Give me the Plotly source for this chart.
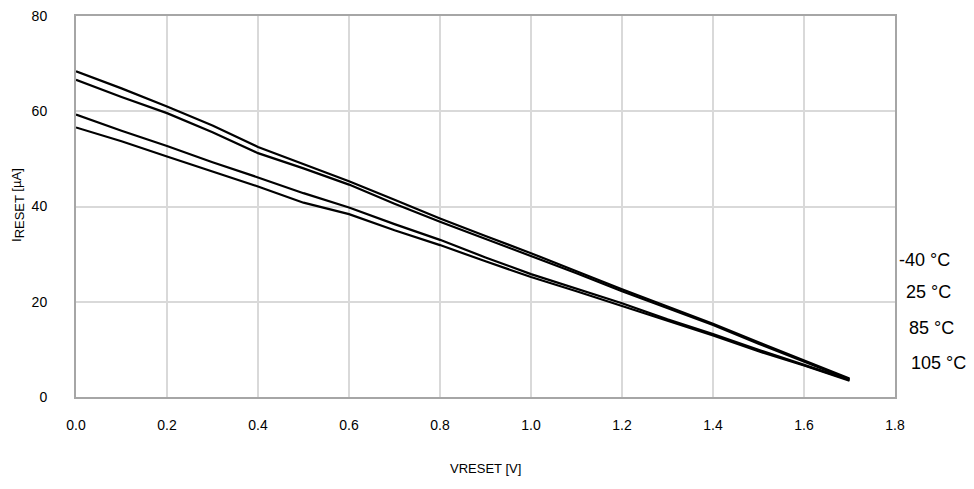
import plotly.graph_objects as go

vreset = [0.0, 0.1, 0.2, 0.3, 0.4, 0.5, 0.6, 0.7, 0.8, 0.9, 1.0, 1.1, 1.2, 1.3, 1.4, 1.5, 1.6, 1.7]
i_m40 = [68.4, 64.8, 61.0, 57.0, 52.5, 48.9, 45.3, 41.4, 37.5, 33.8, 30.2, 26.4, 22.6, 19.0, 15.4, 11.5, 7.7, 3.9]
i_25 = [66.6, 63.0, 59.6, 55.6, 51.2, 48.0, 44.6, 40.6, 36.8, 33.2, 29.7, 26.0, 22.2, 18.6, 15.1, 11.2, 7.5, 3.7]
i_85 = [59.3, 55.9, 52.7, 49.3, 46.1, 42.8, 39.8, 36.3, 33.0, 29.3, 25.8, 22.8, 19.7, 16.3, 13.2, 9.9, 6.8, 3.6]
i_105 = [56.6, 53.7, 50.5, 47.4, 44.2, 40.8, 38.4, 35.0, 31.9, 28.5, 25.2, 22.2, 19.1, 16.0, 12.9, 9.6, 6.6, 3.4]
series_names = ["-40 °C", "25 °C", "85 °C", "105 °C"]
x_ticks = [0.0, 0.2, 0.4, 0.6, 0.8, 1.0, 1.2, 1.4, 1.6, 1.8]
y_ticks = [0, 20, 40, 60, 80]

FONT = "Arial, Liberation Sans, sans-serif"
fig = go.Figure()
for name, ys in zip(series_names, [i_m40, i_25, i_85, i_105]):
    fig.add_trace(go.Scatter(x=vreset, y=ys, mode="lines", name=name,
                             line=dict(color="black", width=2.2)))

# right-side labels (paper coords; plot area is 819 x 381 px)
label_pos = [(1.0024, 0.3596), (1.011, 0.2756), (1.0147, 0.181), (1.017, 0.0892)]
for name, (px, py) in zip(series_names, label_pos):
    fig.add_annotation(text=name, xref="paper", yref="paper", x=px, y=py,
                       xanchor="left", yanchor="middle", showarrow=False,
                       font=dict(size=18, color="black", family=FONT))

fig.add_annotation(text="VRESET [V]", xref="paper", yref="paper", x=0.5, y=-0.1864,
                   xanchor="center", yanchor="middle", showarrow=False,
                   font=dict(size=13, color="black", family=FONT))
fig.add_annotation(text="I<sub><span style='font-size:13px'>RESET</span></sub> [µA]",
                   xref="paper", yref="paper", x=-0.0708, y=0.504,
                   xanchor="center", yanchor="middle", showarrow=False, textangle=-90,
                   font=dict(size=13, color="black", family=FONT))

# page body has an 8px margin, so the figure is offset by 8px
fig.update_layout(
    width=958, height=473,
    margin=dict(l=68, r=71, t=8, b=84),
    paper_bgcolor="white", plot_bgcolor="white",
    showlegend=False,
    font=dict(family=FONT, size=14, color="black"),
    xaxis=dict(range=[0, 1.8], tickvals=x_ticks, ticktext=[f"{v:.1f}" for v in x_ticks],
               showgrid=True, gridcolor="#d9d9d9", gridwidth=2,
               showline=True, linecolor="#a6a6a6", linewidth=2, mirror=True,
               zeroline=False, ticks="", ticklabelstandoff=14, automargin=False,
               ticklabeloverflow="allow",
               tickfont=dict(size=14, color="black")),
    yaxis=dict(range=[0, 80], tickvals=y_ticks,
               showgrid=True, gridcolor="#d9d9d9", gridwidth=2,
               showline=True, linecolor="#a6a6a6", linewidth=2, mirror=True,
               zeroline=False, ticks="", ticklabelstandoff=24, automargin=False,
               ticklabeloverflow="allow",
               tickfont=dict(size=14, color="black")),
)

fig.write_html("out.html")
